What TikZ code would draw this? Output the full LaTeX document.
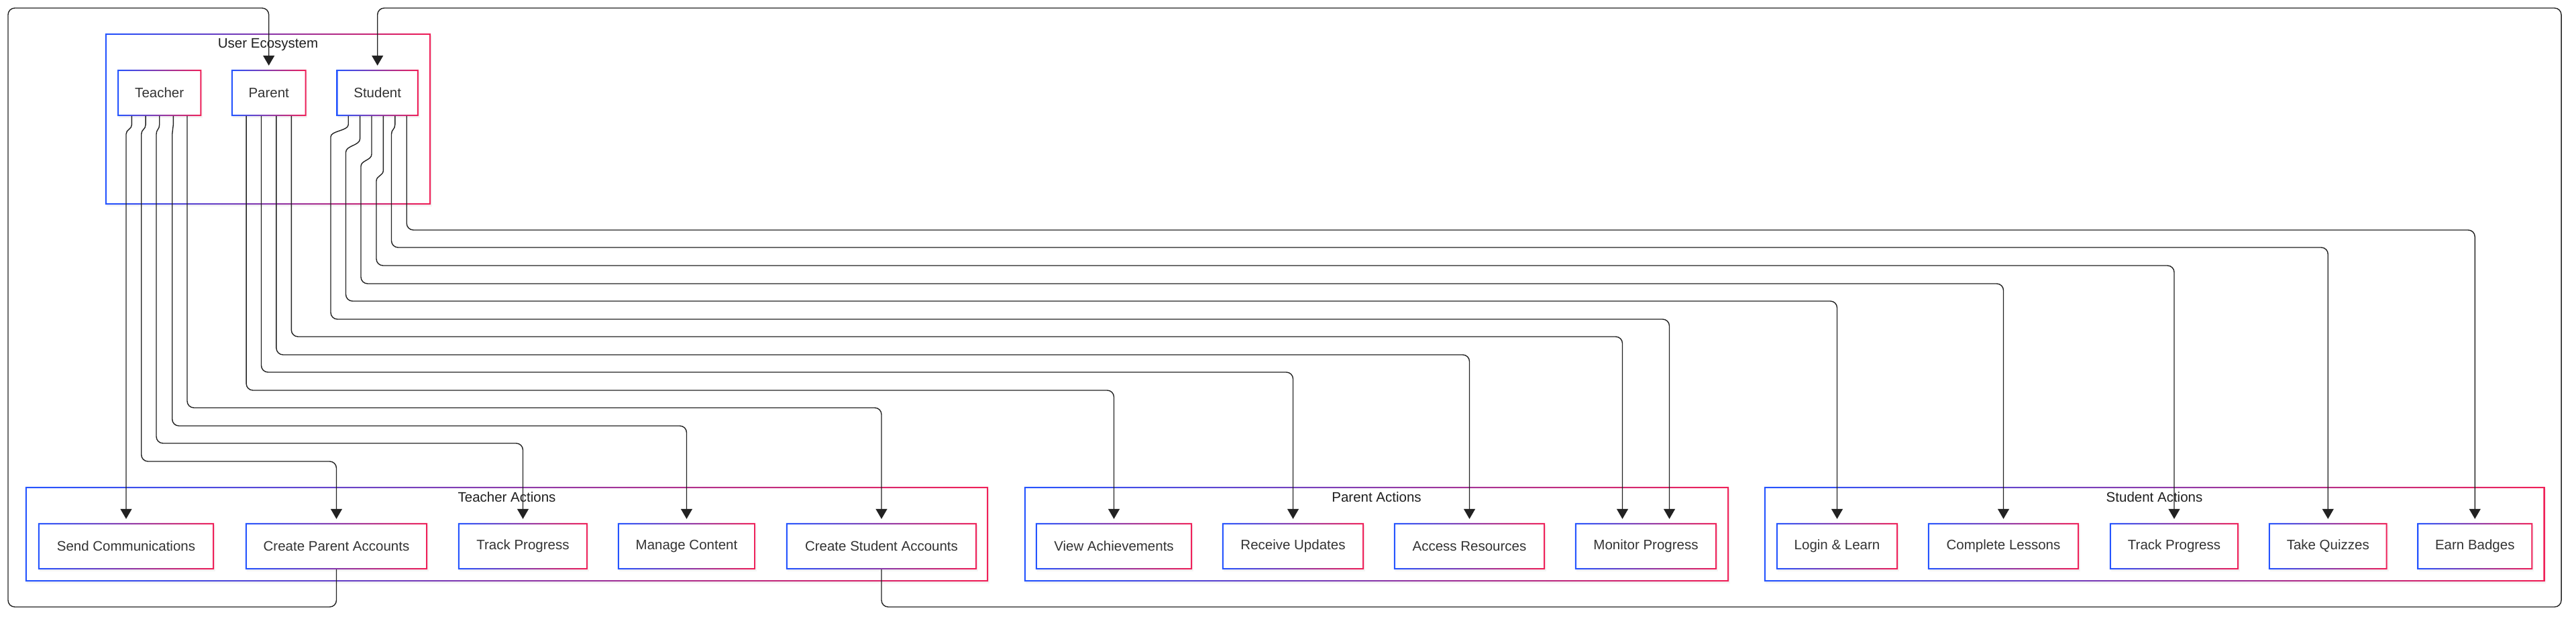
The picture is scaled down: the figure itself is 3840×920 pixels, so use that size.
\documentclass[tikz,border=0pt]{standalone}
\usepackage{fontspec}
\setmainfont{Liberation Sans}
\usetikzlibrary{arrows.meta,calc,shadows}
\definecolor{gblue}{RGB}{36,84,255}
\definecolor{gred}{RGB}{240,32,88}
\definecolor{txt}{RGB}{51,51,51}
\definecolor{lnc}{RGB}{34,34,34}
\newcommand\gborder[1]{%
  \path[left color=gblue,right color=gred,even odd rule]
    (#1.south west) rectangle (#1.north east)
    ($(#1.south west)+(2,-2)$) rectangle ($(#1.north east)+(-2,2)$);}
\begin{document}
\begin{tikzpicture}[x=1pt,y=-1pt,
  box/.style={rectangle, fill=white, inner sep=0pt, minimum height=69pt,
    text=txt, font=\fontsize{20.5}{24}\selectfont,
    drop shadow={shadow xshift=2pt,shadow yshift=-3pt,opacity=0.08}},
  grp/.style={rectangle, fill=white, inner sep=0pt,
    drop shadow={shadow xshift=2pt,shadow yshift=-3pt,opacity=0.08}},
  gtitle/.style={font=\fontsize{20.5}{24}\selectfont, text=black!88,
    inner sep=0pt, text height=15pt, text depth=4pt},
  conn/.style={draw=lnc, line width=1.4pt},
  arr/.style={conn, -{Triangle[length=15pt,width=17pt]}, shorten >=6pt}]
\useasboundingbox (0,0) rectangle (3840,920);
\fill[white] (0,0) rectangle (3840,920);

% groups
\node[grp, minimum width=485pt, minimum height=255pt] (ue) at (399.5,177.5) {};
\node[grp, minimum width=1435pt, minimum height=141pt] (ta) at (755.5,796.5) {};
\node[grp, minimum width=1050pt, minimum height=141pt] (pa) at (2052,796.5) {};
\node[grp, minimum width=1163pt, minimum height=141pt] (sa) at (3211.5,796.5) {};
\gborder{ue}\gborder{ta}\gborder{pa}\gborder{sa}
\node[gtitle] (uet) at (399.5,66) {User Ecosystem};
\node[gtitle] (tat) at (755.5,743) {Teacher Actions};
\node[gtitle] (pat) at (2052,743) {Parent Actions};
\node[gtitle] (sat) at (3211.5,743) {Student Actions};

% top nodes
\node[box, minimum width=124.7pt] (teacher) at (237.7,138.5) {Teacher};
\node[box, minimum width=111.2pt] (parent) at (400.7,138.5) {Parent};
\node[box, minimum width=121.9pt] (student) at (562.7,138.5) {Student};

% bottom nodes
\node[box, minimum width=262pt] (sc) at (188,814.5) {Send Communications};
\node[box, minimum width=271pt] (cpa) at (501.5,814.5) {Create Parent Accounts};
\node[box, minimum width=193pt] (tp1) at (779.5,814.5) {Track Progress};
\node[box, minimum width=205pt] (mc) at (1023.5,814.5) {Manage Content};
\node[box, minimum width=284pt] (csa) at (1314,814.5) {Create Student Accounts};
\node[box, minimum width=233pt] (va) at (1660.5,814.5) {View Achievements};
\node[box, minimum width=211pt] (ru) at (1927.5,814.5) {Receive Updates};
\node[box, minimum width=225pt] (ar) at (2190.5,814.5) {Access Resources};
\node[box, minimum width=211pt] (mp) at (2453.5,814.5) {Monitor Progress};
\node[box, minimum width=181pt] (ll) at (2738.5,814.5) {Login \& Learn};
\node[box, minimum width=225pt] (cl) at (2986.5,814.5) {Complete Lessons};
\node[box, minimum width=192pt] (tp2) at (3241,814.5) {Track Progress};
\node[box, minimum width=176.5pt] (tq) at (3470.25,814.5) {Take Quizzes};
\node[box, minimum width=171.5pt] (eb) at (3689.25,814.5) {Earn Badges};

\foreach \n in {teacher,parent,student,sc,cpa,tp1,mc,csa,va,ru,ar,mp,ll,cl,tp2,tq,eb}{\gborder{\n}}

% teacher connectors
\draw[arr] ([xshift=-41.3pt]teacher.south) -- (196.4,186) .. controls (196.4,193) and (188,193) .. (188,200) -- (sc.north);
\draw[arr] ([xshift=-20.6pt]teacher.south) -- (217.1,186) .. controls (217.1,193) and (210.7,193) .. (210.7,200) [rounded corners=10pt] -- (210.7,688) -- (501.5,688) -- (cpa.north);
\draw[arr] (teacher.south) -- (237.7,186) .. controls (237.7,193) and (233,193) .. (233,200) [rounded corners=10pt] -- (233,661) -- (779.5,661) -- (tp1.north);
\draw[arr] ([xshift=20.6pt]teacher.south) -- (258.3,186) .. controls (258.3,193) and (256.7,193) .. (256.7,200) [rounded corners=10pt] -- (256.7,635) -- (1023.5,635) -- (mc.north);
\draw[arr, rounded corners=10pt] ([xshift=41.3pt]teacher.south) -- (279,608) -- (1314,608) -- (csa.north);

% parent connectors
\draw[arr, rounded corners=10pt] ([xshift=-33.6pt]parent.south) -- (367.1,582) -- (1660.5,582) -- (va.north);
\draw[arr, rounded corners=10pt] ([xshift=-11.2pt]parent.south) -- (389.5,555) -- (1927.5,555) -- (ru.north);
\draw[arr, rounded corners=10pt] ([xshift=11.2pt]parent.south) -- (411.9,529) -- (2190.5,529) -- (ar.north);
\draw[arr, rounded corners=10pt] ([xshift=33.6pt]parent.south) -- (434.3,502) -- (2418.5,502) -- ([xshift=-35pt]mp.north);

% student connectors
\draw[arr] ([xshift=-43.5pt]student.south) -- (519.2,186) .. controls (519.2,195) and (493,195) .. (493,204) [rounded corners=10pt] -- (493,476) -- (2488.5,476) -- ([xshift=35pt]mp.north);
\draw[arr] ([xshift=-26.1pt]student.south) -- (536.6,207) .. controls (536.6,217) and (515.5,217) .. (515.5,227) [rounded corners=10pt] -- (515.5,449) -- (2738.5,449) -- (ll.north);
\draw[arr] ([xshift=-8.7pt]student.south) -- (554,230) .. controls (554,239) and (538,239) .. (538,248) [rounded corners=10pt] -- (538,423) -- (2986.5,423) -- (cl.north);
\draw[arr] ([xshift=8.7pt]student.south) -- (571.4,254) .. controls (571.4,262) and (561,262) .. (561,270) [rounded corners=10pt] -- (561,396) -- (3241,396) -- (tp2.north);
\draw[arr] ([xshift=26.1pt]student.south) -- (588.8,186) .. controls (588.8,193) and (583.5,193) .. (583.5,200) [rounded corners=10pt] -- (583.5,369) -- (3470.25,369) -- (tq.north);
\draw[arr, rounded corners=10pt] ([xshift=43.5pt]student.south) -- (606.2,343) -- (3689.25,343) -- (eb.north);

% feedback loops
\draw[arr, rounded corners=10pt] (cpa.south) -- (501.5,905) -- (12,905) -- (12,12) -- (400.7,12) -- (parent.north);
\draw[arr, rounded corners=10pt] (csa.south) -- (1314,905) -- (3818,905) -- (3818,12) -- (562.7,12) -- (student.north);
\end{tikzpicture}
\end{document}
